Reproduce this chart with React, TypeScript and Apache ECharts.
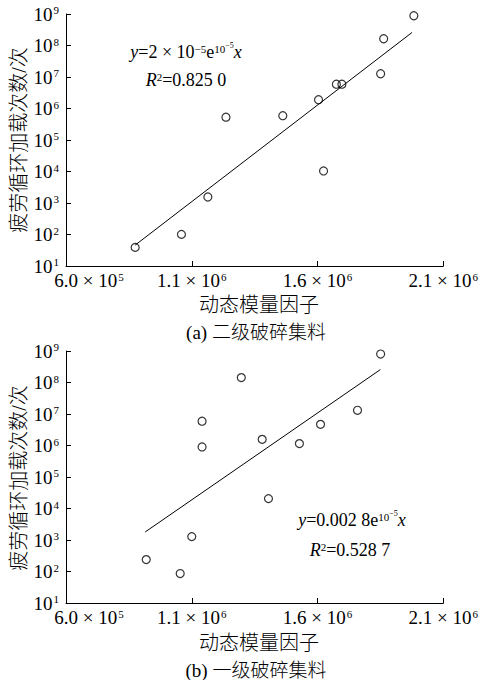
import React, { useEffect, useRef } from "react";
import * as echarts from "echarts";

// ---------- data ----------
const xTicks = [6e5, 1.1e6, 1.6e6, 2.1e6];
const xMin = 6e5;
const xMax = 2.1e6;
const yMin = 10;
const yMax = 1e9;

// (a) 二级破碎集料
const topX = [8.75e5, 1.059e6, 1.164e6, 1.236e6, 1.462e6, 1.604e6, 1.624e6, 1.675e6, 1.697e6, 1.851e6, 1.863e6, 1.983e6];
const topY = [39, 101, 1550, 5.3e5, 5.9e5, 1.9e6, 1.04e4, 5.9e6, 5.9e6, 1.27e7, 1.64e8, 8.8e8];
const topTrendX = [8.75e5, 1.976e6];
const topTrendY = [46, 2.6e8];

// (b) 一级破碎集料
const botX = [9.19e5, 1.054e6, 1.1e6, 1.141e6, 1.141e6, 1.297e6, 1.38e6, 1.405e6, 1.528e6, 1.612e6, 1.759e6, 1.851e6];
const botY = [239, 86, 1280, 5.9e6, 9.0e5, 1.43e8, 1.57e6, 2.06e4, 1.15e6, 4.7e6, 1.31e7, 8.0e8];
const botTrendX = [9.15e5, 1.85e6];
const botTrendY = [1.8e3, 2.57e8];

const yTitle = "疲劳循环加载次数/次";
const xTitle = "动态模量因子";
const captions = ["(a) 二级破碎集料", "(b) 一级破碎集料"];

const SERIF = "'Liberation Serif', 'Times New Roman', 'Noto Sans CJK SC', serif";

const pairs = (xs: number[], ys: number[]) => xs.map((x, i) => [x, ys[i]]);

const supRich = {
  b: { fontSize: 19, fontFamily: SERIF, color: "#000" },
  p: { fontSize: 19, fontFamily: SERIF, color: "#000", padding: [0, 0, 0, 46] },
  s: { fontSize: 11, fontFamily: SERIF, color: "#000", verticalAlign: "top", padding: [0, 0, 0, 1] },
};

const xAxisFor = (gridIndex: number) => ({
  type: "value",
  gridIndex,
  min: xMin,
  max: xMax,
  axisLine: { show: true, onZero: false, lineStyle: { color: "#000", width: 1 } },
  axisTick: { show: true, inside: true, length: 5, customValues: xTicks, lineStyle: { color: "#000", width: 1 } },
  axisLabel: {
    show: true,
    customValues: xTicks,
    margin: 5,
    showMinLabel: true,
    showMaxLabel: true,
    hideOverlap: false,
    formatter: (v: number) => {
      const e = Math.floor(Math.log10(v) + 1e-9);
      const m = v / Math.pow(10, e);
      const tag = v === xMin ? "p" : "b";
      return `{${tag}|${m.toFixed(1)} × 10}{s|${e}}`;
    },
    rich: supRich,
  },
  splitLine: { show: false },
});

const yAxisFor = (gridIndex: number) => ({
  type: "log",
  logBase: 10,
  gridIndex,
  min: yMin,
  max: yMax,
  axisLine: { show: true, onZero: false, lineStyle: { color: "#000", width: 1 } },
  axisTick: { show: true, inside: true, length: 5, lineStyle: { color: "#000", width: 1 } },
  minorTick: { show: false },
  axisLabel: {
    show: true,
    margin: 7,
    showMinLabel: true,
    showMaxLabel: true,
    formatter: (v: number) => `{b|10}{s|${Math.round(Math.log10(v))}}`,
    rich: supRich,
  },
  splitLine: { show: false },
});

const scatterFor = (idx: number, xs: number[], ys: number[]) => ({
  type: "scatter",
  xAxisIndex: idx,
  yAxisIndex: idx,
  data: pairs(xs, ys),
  symbol: "circle",
  symbolSize: 8,
  itemStyle: { color: "rgba(0,0,0,0)", borderColor: "#000", borderWidth: 1.2 },
  z: 3,
});

const trendFor = (idx: number, xs: number[], ys: number[]) => ({
  type: "line",
  xAxisIndex: idx,
  yAxisIndex: idx,
  data: pairs(xs, ys),
  symbol: "none",
  lineStyle: { color: "#000", width: 1 },
  z: 2,
});

const eqRich = {
  i: { fontSize: 18, fontFamily: SERIF, fontStyle: "italic", color: "#000", lineHeight: 22 },
  n: { fontSize: 18, fontFamily: SERIF, color: "#000", lineHeight: 22 },
  s: { fontSize: 11, fontFamily: SERIF, color: "#000", verticalAlign: "top", padding: [2, 0, 0, 0] },
  t: { fontSize: 8, fontFamily: SERIF, color: "#000", verticalAlign: "top", padding: [0, 0, 0, 0] },
};

const cjkText = (x: number, y: number, text: string, size: number, rotation = 0) => ({
  type: "text",
  x,
  y,
  rotation,
  style: {
    text,
    fontSize: size,
    fontFamily: SERIF,
    fontWeight: 300,
    fill: "#000",
    align: "center",
    verticalAlign: "middle",
  },
});

export default function App() {
  const ref = useRef<HTMLDivElement>(null);
  useEffect(() => {
    if (!ref.current) return;
    const chart = echarts.init(ref.current, undefined, { renderer: "svg" });
    chart.setOption({
      animation: false,
      backgroundColor: "#fff",
      grid: [
        { left: 66, top: 14, width: 380, height: 252, containLabel: false },
        { left: 66, top: 351, width: 380, height: 252, containLabel: false },
      ],
      xAxis: [xAxisFor(0), xAxisFor(1)],
      yAxis: [yAxisFor(0), yAxisFor(1)],
      series: [
        trendFor(0, topTrendX, topTrendY),
        scatterFor(0, topX, topY),
        trendFor(1, botTrendX, botTrendY),
        scatterFor(1, botX, botY),
      ],
      graphic: [
        cjkText(19, 140, yTitle, 20, Math.PI / 2),
        cjkText(19, 478, yTitle, 20, Math.PI / 2),
        cjkText(259, 305, xTitle, 20),
        cjkText(256, 332, captions[0], 19),
        cjkText(259, 643, xTitle, 20),
        cjkText(256, 670, captions[1], 19),
        {
          type: "text", x: 186, y: 52,
          style: { text: "{i|y}{n|=2 × 10}{s|−5}{n|e}{s|10}{t|−5}{i|x}", rich: eqRich, align: "center", verticalAlign: "middle", fill: "#000" },
        },
        {
          type: "text", x: 186, y: 80,
          style: { text: "{i|R}{s|2}{n|=0.825 0}", rich: eqRich, align: "center", verticalAlign: "middle", fill: "#000" },
        },
        {
          type: "text", x: 352, y: 520,
          style: { text: "{i|y}{n|=0.002 8e}{s|10}{t|−5}{i|x}", rich: eqRich, align: "center", verticalAlign: "middle", fill: "#000" },
        },
        {
          type: "text", x: 350, y: 550,
          style: { text: "{i|R}{s|2}{n|=0.528 7}", rich: eqRich, align: "center", verticalAlign: "middle", fill: "#000" },
        },
      ],
    });
    return () => chart.dispose();
  }, []);
  return (
    <div
      ref={ref}
      style={{ position: "absolute", left: 0, top: 0, width: 481, height: 680, background: "#fff" }}
    />
  );
}
